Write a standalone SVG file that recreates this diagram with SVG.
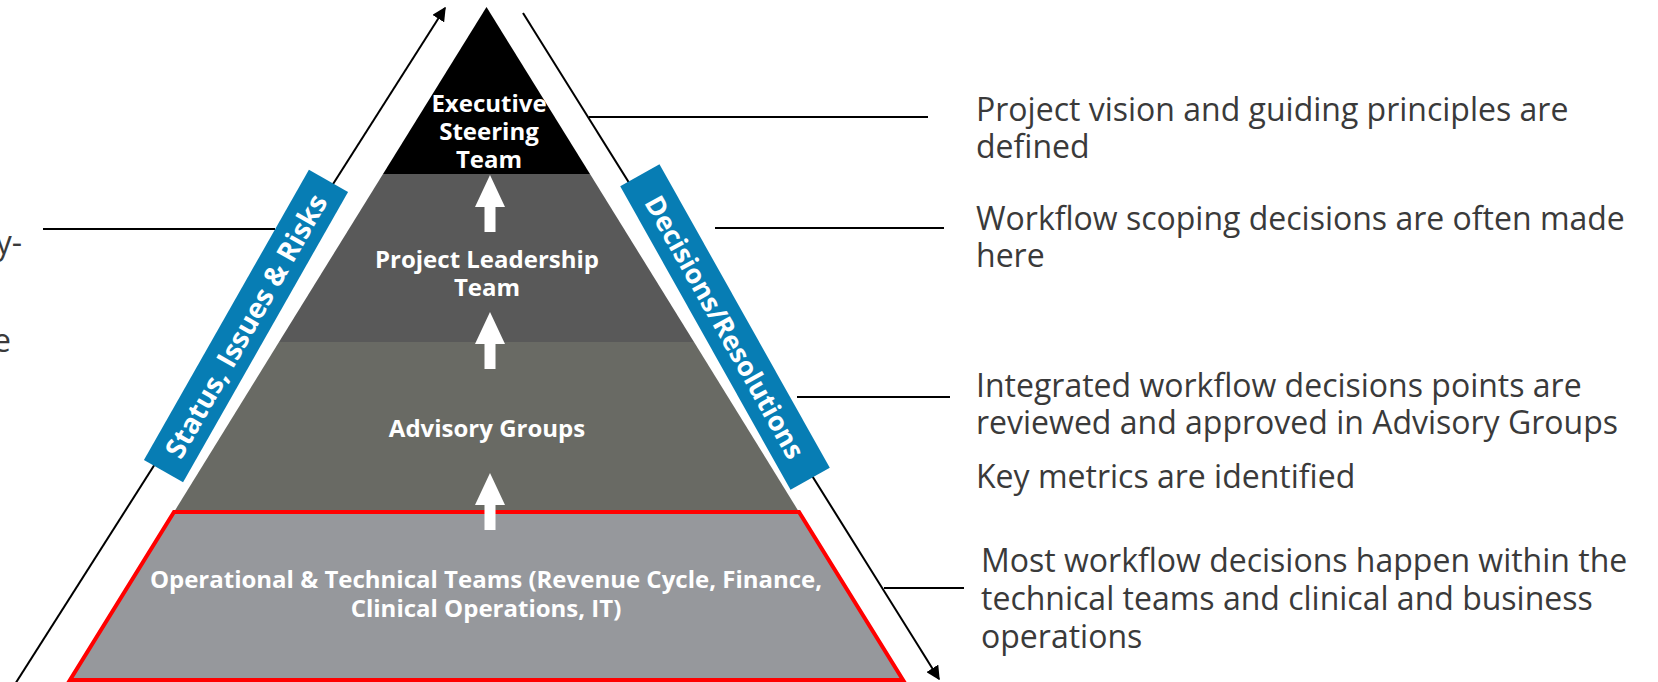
<svg xmlns="http://www.w3.org/2000/svg" width="1658" height="682" viewBox="0 0 1658 682">
<defs>
<style>
.lvl{font-family:"Open Sans","Liberation Sans",sans-serif;font-weight:700;font-size:24px;fill:#fff;text-anchor:middle}
.band{font-family:"Open Sans","Liberation Sans",sans-serif;font-weight:700;fill:#fff;text-anchor:middle}
.note{font-family:"Open Sans","Liberation Sans",sans-serif;font-size:32px;fill:#3a3a3a}
.ln{stroke:#000;stroke-width:2;fill:none}
.up{fill:#fff}
</style>
<marker id="ah" viewBox="0 0 10 10" refX="9" refY="5" markerWidth="7" markerHeight="7" markerUnits="strokeWidth" orient="auto">
<path d="M0,0 L10,5 L0,10 z" fill="#000"/>
</marker>
<path id="uparrow" d="M-15,32 L0,0 L15,32 L5.5,32 L5.5,57 L-5.5,57 L-5.5,32 z"/>
</defs>
<rect width="1658" height="682" fill="#fff"/>

<g id="connectors">
<line class="ln" x1="10" y1="692" x2="445" y2="8" marker-end="url(#ah)"/>
<line class="ln" x1="523" y1="13" x2="939" y2="679" marker-end="url(#ah)"/>
<line class="ln" x1="43" y1="229" x2="275" y2="229"/>
<line class="ln" x1="589" y1="117" x2="928" y2="117"/>
<line class="ln" x1="715" y1="228" x2="944" y2="228"/>
<line class="ln" x1="797" y1="397" x2="950" y2="397"/>
<line class="ln" x1="884" y1="588" x2="964" y2="588"/>
</g>

<g id="pyramid">
<g id="executive">
<polygon points="486.5,7 590,174 383,174" fill="#000"/>
<text class="lvl" x="489" y="112">Executive</text>
<text class="lvl" x="489" y="140">Steering</text>
<text class="lvl" x="489" y="168">Team</text>
</g>
<g id="leadership">
<polygon points="383,174 590,174 694,342 279,342" fill="#595959"/>
<text class="lvl" x="487" y="268">Project Leadership</text>
<text class="lvl" x="487" y="296">Team</text>
</g>
<g id="advisory">
<polygon points="279,342 694,342 799,512 174,512" fill="#696a64"/>
<text class="lvl" x="487" y="437">Advisory Groups</text>
</g>
<g id="operational">
<polygon points="174,512 799,512 903,680 70,680" fill="#96989c" stroke="#ff0000" stroke-width="4" stroke-linejoin="miter"/>
<text class="lvl" x="486" y="588">Operational &amp; Technical Teams (Revenue Cycle, Finance,</text>
<text class="lvl" x="486" y="617">Clinical Operations, IT)</text>
</g>
<g id="up-arrows">
<use href="#uparrow" class="up" x="490" y="175"/>
<use href="#uparrow" class="up" x="490" y="312"/>
<use href="#uparrow" class="up" x="490" y="473"/>
</g>
</g>

<g id="status-band" transform="translate(246,326) rotate(-60.4)">
<rect x="-167" y="-22.5" width="334" height="45" fill="#077db4"/>
<text class="band" x="0" y="10" font-size="28">Status, Issues &amp; Risks</text>
</g>
<g id="decisions-band" transform="translate(725,327) rotate(60.7)">
<rect x="-174" y="-22.5" width="348" height="45" fill="#077db4"/>
<text class="band" x="0" y="10" font-size="27">Decisions/Resolutions</text>
</g>

<g id="left-notes">
<text class="note" x="22" y="254" text-anchor="end">y-</text>
<text class="note" x="11" y="352" text-anchor="end">e</text>
</g>

<g id="right-notes">
<text class="note" x="976" y="121">Project vision and guiding principles are</text>
<text class="note" x="976" y="158">defined</text>
<text class="note" x="976" y="230">Workflow scoping decisions are often made</text>
<text class="note" x="976" y="267">here</text>
<text class="note" x="976" y="397">Integrated workflow decisions points are</text>
<text class="note" x="976" y="434">reviewed and approved in Advisory Groups</text>
<text class="note" x="976" y="488">Key metrics are identified</text>
<text class="note" x="981" y="572">Most workflow decisions happen within the</text>
<text class="note" x="981" y="610">technical teams and clinical and business</text>
<text class="note" x="981" y="648">operations</text>
</g>
</svg>
